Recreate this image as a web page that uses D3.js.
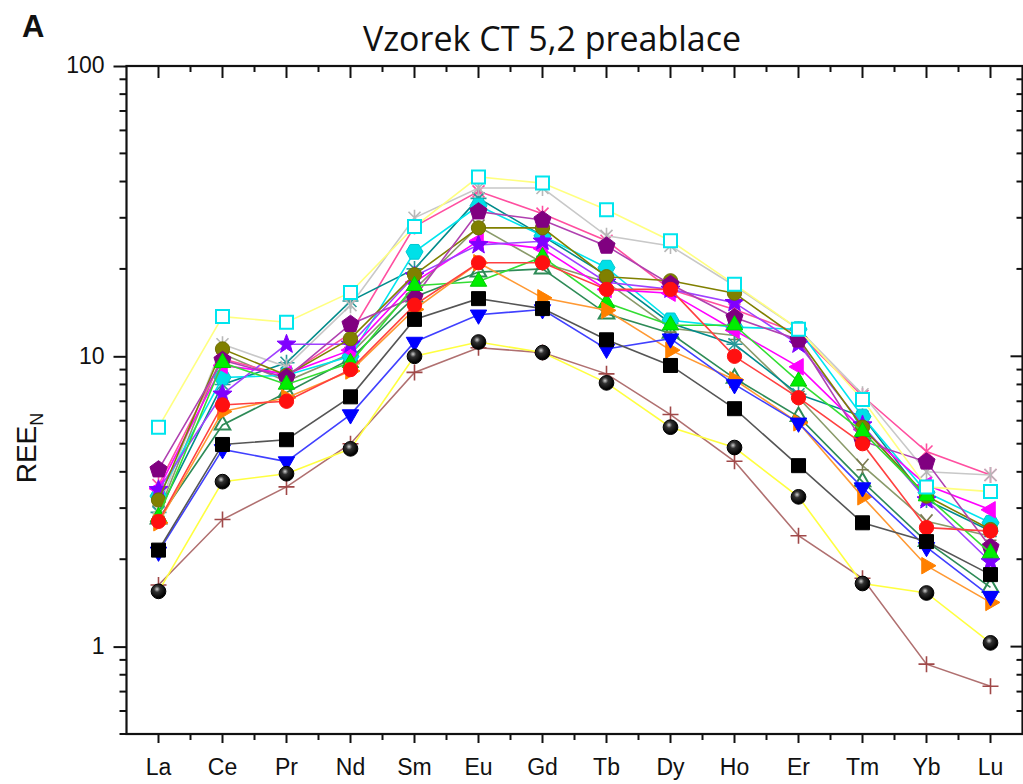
<!DOCTYPE html>
<html><head><meta charset="utf-8">
<script src="https://cdn.jsdelivr.net/npm/d3@7"></script>
<style>body{margin:0;background:#fff;} svg{display:block;}</style>
</head><body>
<svg id="chart" width="1023" height="784"></svg>
<script>
const categories = ["La","Ce","Pr","Nd","Sm","Eu","Gd","Tb","Dy","Ho","Er","Tm","Yb","Lu"];
const yTicks = [1, 10, 100];
const yTickLabels = ["1", "10", "100"];
const yMinorTicks = [0.5,0.6,0.7,0.8,0.9,2,3,4,5,6,7,8,9,20,30,40,50,60,70,80,90];

const s18 = [2.75, 5.8, 7.5, 9.8, 16, 19.5, 20, 14, 12, 8.4, 6.2, 3.7, 2.3, 1.6];
const s17 = [2.9, 10.2, 8.2, 10.2, 17, 28, 21, 18, 12.5, 11.8, 7.2, 4.2, 2.7, 2.4];
const s16 = [3.6, 9.8, 8.6, 12, 28, 37, 31, 25, 17, 14.5, 12, 7.3, 4.7, 3.9];
const s15 = [2.9, 8.0, 9.5, 15.5, 20, 35, 26, 19, 13, 11, 7.4, 6.2, 3.2, 2.5];
const s14 = [3.0, 11, 9.2, 15, 30, 38, 38, 26, 24, 17.5, 12.4, 7.4, 4.0, 3.9];
const s13 = [3.3, 8.45, 8.6, 10, 22.9, 33, 26, 20.2, 13.3, 12.6, 12.4, 6.2, 3.4, 2.67];
const s12 = [3.5, 9.3, 8.7, 10.5, 18, 25, 23.5, 17, 16.5, 12.3, 9.2, 5.6, 3.6, 2.96];
const s11 = [3.47, 7.4, 11, 11, 18.9, 24.2, 24.9, 18, 17, 15.3, 11, 5.8, 3.2, 1.96];
const s10 = [3.2, 10.6, 8.6, 11.5, 19.1, 27.7, 27.7, 18.8, 18.2, 16.5, 11.5, 5.7, 3.3, 2.53];
const s9  = [4.07, 9.7, 8.45, 12.9, 16, 31.5, 29.5, 24, 17.7, 13.6, 11.4, 5.1, 4.33, 2.2];
const s8  = [2.8, 9.5, 8.0, 9.5, 17.5, 18.1, 22, 15.3, 12.8, 12.8, 8.2, 5.5, 3.3, 2.1];
const s7  = [2.67, 6.45, 7.2, 8.9, 14.5, 21, 15.9, 14.4, 10.5, 8.3, 5.9, 3.28, 1.9, 1.42];
const s6  = [2.7, 6.8, 7.0, 9.0, 15, 21, 21, 17, 17, 10, 7.2, 5.0, 2.57, 2.5];
const s5  = [2.12, 4.78, 4.34, 6.3, 11.2, 13.9, 14.5, 10.6, 11.5, 8.0, 5.9, 3.53, 2.2, 1.49];
const s4  = [2.15, 4.97, 5.16, 7.25, 13.4, 15.8, 14.6, 11.4, 9.3, 6.6, 4.2, 2.67, 2.3, 1.77];
const s3  = [1.63, 2.74, 3.55, 5.0, 8.8, 10.7, 10.3, 8.7, 6.3, 4.35, 2.41, 1.72, 0.87, 0.73];
const s2  = [1.55, 3.7, 3.94, 4.8, 10, 11.2, 10.3, 8.1, 5.7, 4.85, 3.28, 1.65, 1.53, 1.03];
const s1  = [5.7, 13.7, 13.1, 16.6, 28, 41.5, 39.5, 32, 25, 17.7, 12.4, 7.1, 3.55, 3.42];

// draw order (first drawn is at the bottom)
const series = [
  {values: s18, line: "#2e8b57", marker: "openTri", fill: "none", stroke: "#2e8b57"},
  {values: s17, line: "#8a9a6a", marker: "yMark", fill: "none", stroke: "#7a7a50"},
  {values: s16, line: "#ff4fa0", marker: "times", fill: "none", stroke: "#ff4fa0"},
  {values: s15, line: "#008b8b", marker: "asterisk", fill: "none", stroke: "#2a9a9a"},
  {values: s14, line: "#c8c8c8", marker: "times", fill: "none", stroke: "#b8b8b8"},
  {values: s13, line: "#00e5ee", marker: "hexagon", fill: "#00e0e8", stroke: "#00c8d0"},
  {values: s12, line: "#ff00ff", marker: "leftTri", fill: "#ff00ff", stroke: "#ff00ff"},
  {values: s11, line: "#a040ff", marker: "star", fill: "#8000ff", stroke: "#8000ff"},
  {values: s10, line: "#808000", marker: "circle", fill: "#808000", stroke: "#707000"},
  {values: s9,  line: "#b040b0", marker: "pentagon", fill: "#800080", stroke: "#800080"},
  {values: s8,  line: "#33dd33", marker: "upTri", fill: "#00ee00", stroke: "#00cc00"},
  {values: s7,  line: "#ff9933", marker: "rightTri", fill: "#ff8000", stroke: "#ff8000"},
  {values: s6,  line: "#ff4040", marker: "circle", fill: "#ff1010", stroke: "#ff1010"},
  {values: s5,  line: "#4040ff", marker: "downTri", fill: "#0000ff", stroke: "#0000ff"},
  {values: s4,  line: "#555555", marker: "square", fill: "#000000", stroke: "#000000"},
  {values: s3,  line: "#b07070", marker: "plus", fill: "none", stroke: "#a04848"},
  {values: s2,  line: "#ffff40", marker: "ball", fill: "url(#ballGrad)", stroke: "#000"},
  {values: s1,  line: "#ffff80", marker: "openSquare", fill: "#ffffff", stroke: "#00e5ee"}
];

const svg = d3.select("#chart");
const defs = svg.append("defs");
const rg = defs.append("radialGradient").attr("id","ballGrad")
  .attr("cx","40%").attr("cy","35%").attr("r","60%");
rg.append("stop").attr("offset","0%").attr("stop-color","#d0d0d0");
rg.append("stop").attr("offset","35%").attr("stop-color","#303030");
rg.append("stop").attr("offset","100%").attr("stop-color","#000000");

const L = 126.5, R = 1022.5, T = 66, B = 734;
const x = d3.scaleBand().domain(categories).range([L, R]).paddingInner(0).paddingOuter(0);
const cx = c => x(c) + x.bandwidth() / 2;
const y = d3.scaleLog().domain([0.5, 100]).range([B, T]);

// Marker paths
function poly(n, r, rot) {
  const pts = [];
  for (let i = 0; i < n; i++) {
    const a = rot + i * 2 * Math.PI / n;
    pts.push([r * Math.cos(a), r * Math.sin(a)]);
  }
  return "M" + pts.map(p => p[0].toFixed(2) + "," + p[1].toFixed(2)).join("L") + "Z";
}
function starPath(r) {
  const pts = [];
  for (let i = 0; i < 10; i++) {
    const rr = i % 2 === 0 ? r : r * 0.42;
    const a = -Math.PI / 2 + i * Math.PI / 5;
    pts.push([rr * Math.cos(a), rr * Math.sin(a)]);
  }
  return "M" + pts.map(p => p[0].toFixed(2) + "," + p[1].toFixed(2)).join("L") + "Z";
}
const markerPath = {
  square: () => "M-7,-7H7V7H-7Z",
  openSquare: () => "M-6.5,-6.5H6.5V6.5H-6.5Z",
  circle: () => d3.symbol().type(d3.symbolCircle).size(160)(),
  ball: () => d3.symbol().type(d3.symbolCircle).size(170)(),
  upTri: () => poly(3, 9.5, -Math.PI / 2),
  openTri: () => poly(3, 9, -Math.PI / 2),
  downTri: () => poly(3, 9.5, Math.PI / 2),
  leftTri: () => poly(3, 9.5, Math.PI),
  rightTri: () => poly(3, 9.5, 0),
  pentagon: () => poly(5, 9, -Math.PI / 2),
  hexagon: () => poly(6, 8.5, 0),
  star: () => starPath(10),
  plus: () => "M-8,0H8M0,-8V8",
  times: () => "M-6,-6L6,6M-6,6L6,-6M0,-8V8",
  asterisk: () => "M-8,0H8M0,-8V8M-6,-6L6,6M-6,6L6,-6",
  yMark: () => "M-6,-7L0,0L6,-7M0,0V8M-6,4H6"
};
const strokeOnly = new Set(["plus", "times", "asterisk", "yMark"]);

const plot = svg.append("g");
const lineGen = d3.line().x((d, i) => cx(categories[i])).y(d => y(d));

series.forEach(s => {
  const g = plot.append("g");
  g.append("path").datum(s.values)
    .attr("d", lineGen)
    .attr("fill", "none")
    .attr("stroke", s.line)
    .attr("stroke-width", 1.6);
  g.selectAll("path.m").data(s.values).join("path")
    .attr("class", "m")
    .attr("transform", (d, i) => `translate(${cx(categories[i])},${y(d)})`)
    .attr("d", markerPath[s.marker]())
    .attr("fill", strokeOnly.has(s.marker) ? "none" : s.fill)
    .attr("stroke", s.stroke)
    .attr("stroke-width", s.marker === "openSquare" || s.marker === "openTri" ? 2 : (strokeOnly.has(s.marker) ? 1.6 : 1));
});

// Frame and axes
const axisColor = "#111";
const labelFont = "Liberation Sans, Arial, sans-serif";
const bottomAxis = d3.axisBottom(x).tickSize(9).tickSizeOuter(0).tickPadding(16);
const gb = svg.append("g").attr("transform", `translate(0,${B})`).call(bottomAxis);
gb.select(".domain").remove();
gb.selectAll(".tick line").attr("stroke", axisColor).attr("stroke-width", 2);
gb.selectAll(".tick text").attr("font-family", labelFont)
  .attr("font-size", 23).attr("fill", "#111");

// bottom minor ticks between categories (at band edges)
const edges = categories.slice(1).map(c => x(c));
svg.append("g").selectAll("line").data(edges).join("line")
  .attr("x1", d => d).attr("x2", d => d).attr("y1", B).attr("y2", B + 6)
  .attr("stroke", axisColor).attr("stroke-width", 2);

// top ticks (inward)
const gTop = svg.append("g");
gTop.selectAll("line.maj").data(categories).join("line").attr("class","maj")
  .attr("x1", d => cx(d)).attr("x2", d => cx(d)).attr("y1", T).attr("y2", T + 12)
  .attr("stroke", axisColor).attr("stroke-width", 2);
gTop.selectAll("line.min").data(edges).join("line").attr("class","min")
  .attr("x1", d => d).attr("x2", d => d).attr("y1", T).attr("y2", T + 6)
  .attr("stroke", axisColor).attr("stroke-width", 2);

// left axis
const leftAxis = d3.axisLeft(y).tickValues(yTicks).tickFormat((d, i) => yTickLabels[i])
  .tickSize(13).tickSizeOuter(0).tickPadding(9);
const gl = svg.append("g").attr("transform", `translate(${L},0)`).call(leftAxis);
gl.select(".domain").remove();
gl.selectAll(".tick line").attr("stroke", axisColor).attr("stroke-width", 2);
gl.selectAll(".tick text").attr("font-family", labelFont)
  .attr("font-size", 23).attr("fill", "#111").attr("dy", "0.3em");
svg.append("g").selectAll("line").data(yMinorTicks).join("line")
  .attr("x1", L - 7).attr("x2", L).attr("y1", d => y(d)).attr("y2", d => y(d))
  .attr("stroke", axisColor).attr("stroke-width", 2);

// right ticks (inward)
const gr = svg.append("g");
gr.selectAll("line.maj").data(yTicks).join("line").attr("class","maj")
  .attr("x1", R - 12).attr("x2", R).attr("y1", d => y(d)).attr("y2", d => y(d))
  .attr("stroke", axisColor).attr("stroke-width", 2);
gr.selectAll("line.min").data(yMinorTicks).join("line").attr("class","min")
  .attr("x1", R - 6).attr("x2", R).attr("y1", d => y(d)).attr("y2", d => y(d))
  .attr("stroke", axisColor).attr("stroke-width", 2);

// frame
svg.append("rect").attr("x", L).attr("y", T).attr("width", R - L).attr("height", B - T)
  .attr("fill", "none").attr("stroke", axisColor).attr("stroke-width", 2.2);

// Title, panel letter, y label
svg.append("text").attr("x", 552).attr("y", 51).attr("text-anchor", "middle")
  .attr("font-family", "Open Sans, Liberation Sans, sans-serif").attr("font-size", 34)
  .attr("fill", "#111").text("Vzorek CT 5,2 preablace");
svg.append("text").attr("x", 22).attr("y", 37)
  .attr("font-family", labelFont).attr("font-weight", "bold")
  .attr("font-size", 31).attr("fill", "#111").text("A");
const yl = svg.append("text").attr("transform", "translate(36,448) rotate(-90)")
  .attr("text-anchor", "middle")
  .attr("font-family", labelFont).attr("font-size", 28).attr("fill", "#111");
yl.append("tspan").text("REE");
yl.append("tspan").attr("font-size", 18).attr("dy", 7).text("N");
</script>
</body></html>
